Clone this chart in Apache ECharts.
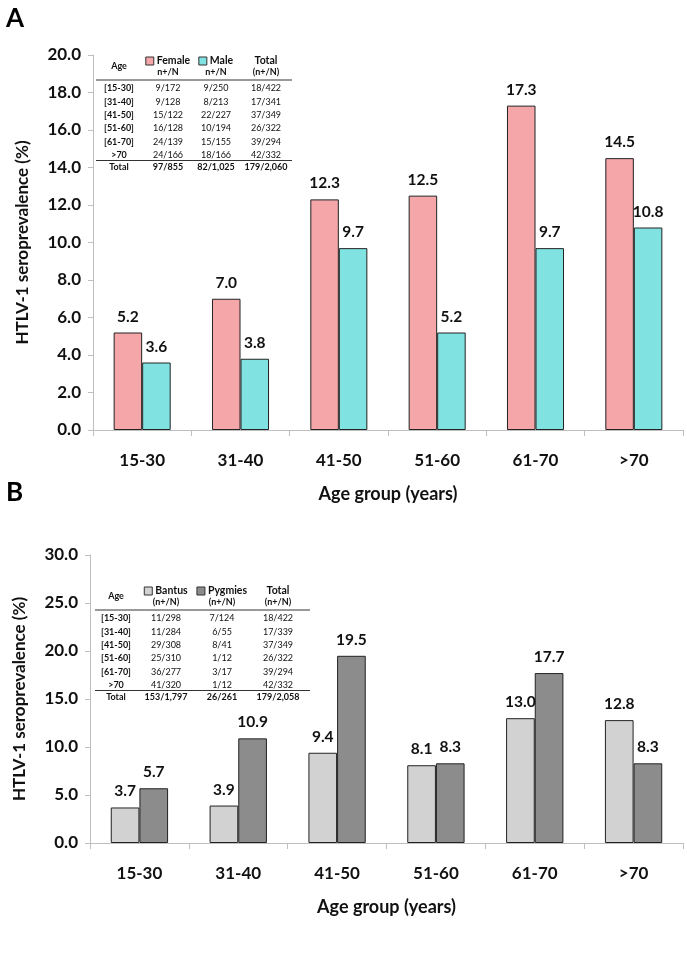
<!DOCTYPE html>
<html>
<head>
<meta charset="utf-8">
<script src="https://cdn.jsdelivr.net/npm/echarts@6/dist/echarts.min.js"></script>
<style>
html,body{margin:0;padding:0;background:#fff;}
#chart{width:687px;height:956px;}
</style>
</head>
<body>
<div id="chart"></div>
<script>
// ---- Data ----
var categories = ['15-30', '31-40', '41-50', '51-60', '61-70', '>70'];
var femaleValues = [5.2, 7.0, 12.3, 12.5, 17.3, 14.5];
var maleValues = [3.6, 3.8, 9.7, 5.2, 9.7, 10.8];
var bantuValues = [3.7, 3.9, 9.4, 8.1, 13.0, 12.8];
var pygmyValues = [5.7, 10.9, 19.5, 8.3, 17.7, 8.3];

var tableAges = ['[15-30]', '[31-40]', '[41-50]', '[51-60]', '[61-70]', '>70'];
var tableAFemale = ['9/172', '9/128', '15/122', '16/128', '24/139', '24/166'];
var tableAMale = ['9/250', '8/213', '22/227', '10/194', '15/155', '18/166'];
var tableATotal = ['18/422', '17/341', '37/349', '26/322', '39/294', '42/332'];
var tableATotals = ['Total', '97/855', '82/1,025', '179/2,060'];

var tableBBantu = ['11/298', '11/284', '29/308', '25/310', '36/277', '41/320'];
var tableBPygmy = ['7/124', '6/55', '8/41', '1/12', '3/17', '1/12'];
var tableBTotal = ['18/422', '17/339', '37/349', '26/322', '39/294', '42/332'];
var tableBTotals = ['Total', '153/1,797', '26/261', '179/2,058'];

// ---- Styles ----
var FONT = 'Lato, "Liberation Sans", sans-serif';
var cFemale = '#F4A6A9', cMale = '#80E3E1', cBantu = '#D2D2D2', cPygmy = '#8C8C8C';
var axisGray = '#BFBFBF';

var ctx = document.createElement('canvas').getContext('2d');
function textW(t, size, bold) { ctx.font = (bold ? 'bold ' : '') + size + 'px Lato'; return ctx.measureText(t).width; }

function barSeries(name, data, color, xi) {
  return {
    name: name, type: 'bar', xAxisIndex: xi, yAxisIndex: xi, data: data,
    barGap: '0%', barCategoryGap: '42%',
    itemStyle: { color: color, borderColor: '#222', borderWidth: 1 },
    label: { show: true, position: 'top', distance: 8, fontFamily: FONT, fontWeight: 'bold', fontSize: 15.5, color: '#111',
      formatter: function (p) { return p.value.toFixed(1); } }
  };
}

function xAxis(gi) {
  return {
    type: 'category', gridIndex: gi, data: categories,
    name: 'Age group (years)', nameLocation: 'middle', nameGap: 55,
    nameTextStyle: { fontFamily: FONT, fontWeight: 'bold', fontSize: 18, color: '#111' },
    axisLine: { lineStyle: { color: axisGray, width: 1 } },
    axisTick: { show: true, length: 6, lineStyle: { color: axisGray } },
    axisLabel: { margin: 22, fontFamily: FONT, fontWeight: 'bold', fontSize: 17, color: '#111' }
  };
}
function yAxis(gi, max, interval) {
  return {
    type: 'value', gridIndex: gi, min: 0, max: max, interval: interval,
    name: 'HTLV-1 seroprevalence (%)', nameLocation: 'middle', nameGap: 62,
    nameTextStyle: { fontFamily: FONT, fontWeight: 'bold', fontSize: 17, color: '#111' },
    axisLine: { show: true, lineStyle: { color: axisGray, width: 1 } },
    axisTick: { show: true, length: 5, lineStyle: { color: axisGray } },
    splitLine: { show: false },
    axisLabel: { margin: 12, fontFamily: FONT, fontWeight: 'bold', fontSize: 17, color: '#111',
      formatter: function (v) { return v.toFixed(1); } }
  };
}

// ---- Tables (graphic) ----
var graphics = [];
function txt(x, y, s, size, bold, align) {
  graphics.push({ type: 'text', x: x, y: y, style: { text: s, fontFamily: FONT, fontSize: size,
    fontWeight: bold ? 'bold' : 'normal', fill: '#111', align: align || 'center', verticalAlign: 'middle' } });
}
function hline(x1, x2, y) {
  graphics.push({ type: 'line', shape: { x1: x1, y1: y, x2: x2, y2: y }, style: { stroke: '#333', lineWidth: 1 } });
}
function legendHead(cx, y, label, color) {
  var w = textW(label, 10.5, true);
  var total = 8 + 3 + w;
  var x0 = cx - total / 2;
  graphics.push({ type: 'rect', shape: { x: x0, y: y - 4, width: 8, height: 8 }, style: { fill: color, stroke: '#333', lineWidth: 1 } });
  txt(x0 + 11, y, label, 10.5, true, 'left');
}
function buildTable(cols, top, lineX1, lineX2, headers, colors, sub, c1, c2, c3, totals, step) {
  txt(cols[0], top + 5, 'Age', 9, true);
  legendHead(cols[1], top, headers[0], colors[0]);
  legendHead(cols[2], top, headers[1], colors[1]);
  txt(cols[3], top, 'Total', 10.5, true);
  txt(cols[1], top + 11, sub, 9, true);
  txt(cols[2], top + 11, sub, 9, true);
  txt(cols[3], top + 11, '(n+/N)', 9, true);
  hline(lineX1, lineX2, top + 19);
  var y0 = top + 27.5;
  for (var i = 0; i < tableAges.length; i++) {
    var y = y0 + i * step;
    txt(cols[0], y, tableAges[i], 9, true);
    txt(cols[1], y, c1[i], 9, false);
    txt(cols[2], y, c2[i], 9, false);
    txt(cols[3], y, c3[i], 9, false);
  }
  var ly = y0 + (tableAges.length - 1) * step + 5.5;
  hline(lineX1, lineX2, ly);
  var ty = ly + 7;
  txt(cols[0], ty, totals[0], 9, true);
  txt(cols[1], ty, totals[1], 9, true);
  txt(cols[2], ty, totals[2], 9, true);
  txt(cols[3], ty, totals[3], 9, true);
}
buildTable([119, 168, 216, 266], 61, 96, 292, ['Female', 'Male'], [cFemale, cMale], 'n+/N',
  tableAFemale, tableAMale, tableATotal, tableATotals, 13.3);
buildTable([116, 166, 222, 278], 591, 95, 310, ['Bantus', 'Pygmies'], [cBantu, cPygmy], '(n+/N)',
  tableBBantu, tableBPygmy, tableBTotal, tableBTotals, 13.3);

graphics.push({ type: 'text', x: 6, y: 6, style: { text: 'A', fontFamily: FONT, fontWeight: 'bold', fontSize: 26, fill: '#000' } });
graphics.push({ type: 'text', x: 6, y: 480, style: { text: 'B', fontFamily: FONT, fontWeight: 'bold', fontSize: 26, fill: '#000' } });

var chart = echarts.init(document.getElementById('chart'), null, { renderer: 'canvas' });
chart.setOption({
  animation: false,
  backgroundColor: '#fff',
  grid: [
    { left: 93, top: 55, width: 590, height: 375 },
    { left: 90, top: 555, width: 593, height: 288 }
  ],
  xAxis: [xAxis(0), xAxis(1)],
  yAxis: [yAxis(0, 20, 2), yAxis(1, 30, 5)],
  series: [
    barSeries('Female', femaleValues, cFemale, 0),
    barSeries('Male', maleValues, cMale, 0),
    barSeries('Bantus', bantuValues, cBantu, 1),
    barSeries('Pygmies', pygmyValues, cPygmy, 1)
  ],
  graphic: graphics
});
</script>
</body>
</html>
